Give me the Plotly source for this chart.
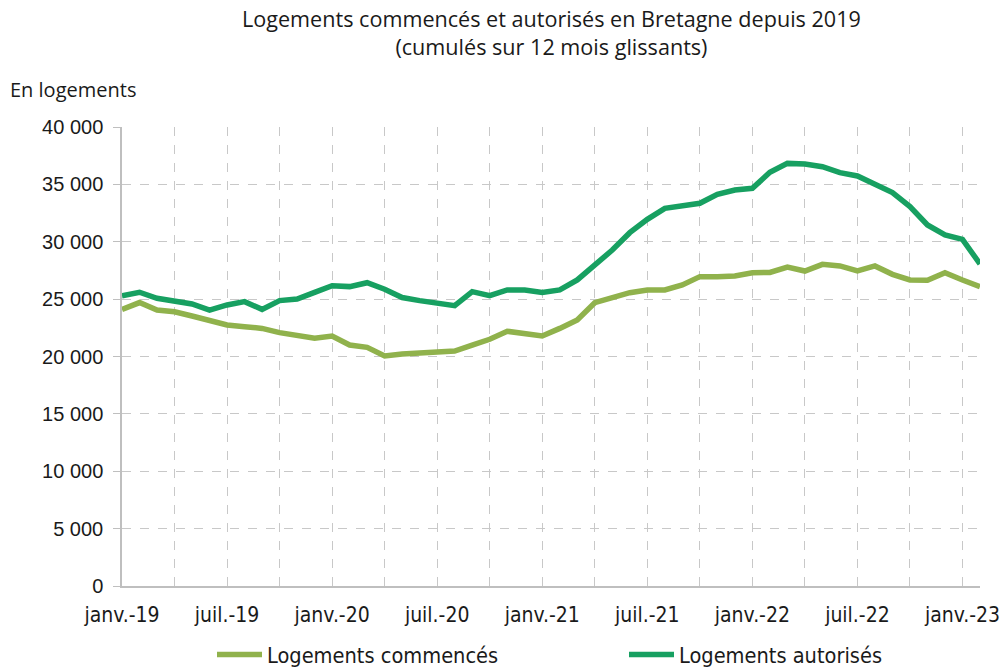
import plotly.graph_objects as go

mois = ["janv.", "févr.", "mars", "avr.", "mai", "juin",
        "juil.", "août", "sept.", "oct.", "nov.", "déc."]
annees = ["19", "20", "21", "22", "23"]
months = [f"{m}-{a}" for a in annees for m in mois][:50]

commences = [24100, 24700, 24050, 23900, 23530, 23090, 22750, 22600, 22450, 22080,
             21790, 21600, 21790, 21000, 20800, 20040, 20220, 20280, 20330, 20480,
             21000, 21500, 22200, 22020, 21790, 22450, 23180, 24690, 25130, 25560,
             25800, 25800, 26230, 26960, 26960, 27020, 27300, 27330, 27800, 27450,
             28030, 27890, 27450, 27890, 27160, 26670, 26640, 27300, 26670, 26090]

autorises = [25300, 25600, 25070, 24780, 24580, 24050, 24490, 24780, 24110, 24870,
             25010, 25590, 26170, 26090, 26430, 25860, 25140, 24870, 24630, 24430,
             25650, 25300, 25800, 25800, 25590, 25800, 26670, 27970, 29280, 30790,
             31950, 32910, 33150, 33350, 34130, 34510, 34660, 36050, 36830, 36780,
             36540, 36020, 35730, 34950, 34280, 33060, 31460, 30590, 30210, 28060]

tick_months = months[::3]
tick_text = [m if i % 2 == 0 else "" for i, m in enumerate(tick_months)]

y_ticks = [0, 5000, 10000, 15000, 20000, 25000, 30000, 35000, 40000]

narrow = "Liberation Sans Narrow, DejaVu Sans Condensed, Arial Narrow, sans-serif"

fig = go.Figure()
fig.add_trace(go.Scatter(x=months, y=commences, mode="lines", name="Logements commencés",
                         line=dict(color="#90b24c", width=5.5)))
fig.add_trace(go.Scatter(x=months, y=autorises, mode="lines", name="Logements autorisés",
                         line=dict(color="#17a061", width=5.5)))

PW, PH = 858, 459

fig.update_layout(
    width=1001, height=672,
    margin=dict(l=122, r=21, t=127, b=86, autoexpand=False),
    paper_bgcolor="white", plot_bgcolor="white",
    separators=", ",
    showlegend=True,
    legend=dict(orientation="h", x=(212 - 122) / PW, xanchor="left",
                y=-(634 - 586) / PH, yanchor="top",
                itemwidth=45, entrywidth=352,
                font=dict(family=narrow, size=21.6, color="#1a1a1a"),
                bgcolor="rgba(0,0,0,0)"),
    xaxis=dict(type="category", categoryorder="array", categoryarray=months,
               range=[0, len(months) - 1],
               tickmode="array", tickvals=tick_months, ticktext=tick_text,
               showgrid=True, gridcolor="#c8c8c8", griddash="dash", gridwidth=1,
               showline=True, linecolor="#bfbfbf", linewidth=1.5,
               ticks="", ticklabelstandoff=9,
               tickfont=dict(family=narrow, size=21, color="#1a1a1a"),
               zeroline=False),
    yaxis=dict(range=[0, 40000], tickmode="array", tickvals=y_ticks, tickformat=",d",
               showgrid=True, gridcolor="#c8c8c8", griddash="dash", gridwidth=1,
               showline=True, linecolor="#bfbfbf", linewidth=1.5,
               ticks="outside", ticklen=7, tickcolor="#bfbfbf", ticklabelstandoff=6,
               tickfont=dict(family="Liberation Sans, Arial, sans-serif", size=20, color="#1a1a1a"),
               zeroline=False),
)

fig.add_annotation(text="Logements commencés et autorisés en Bretagne depuis 2019<br>(cumulés sur 12 mois glissants)",
                   xref="paper", yref="paper", x=0.5, xanchor="center",
                   y=(586 - 33) / PH, yanchor="middle", showarrow=False, align="center",
                   font=dict(family="Open Sans, sans-serif", size=21.6, color="#1a1a1a"))

fig.add_annotation(text="En logements", xref="paper", yref="paper",
                   x=-(122 - 8) / PW, xanchor="left", y=(586 - 90) / PH, yanchor="middle",
                   showarrow=False,
                   font=dict(family="Open Sans, sans-serif", size=20, color="#1a1a1a"))

fig.write_html("out.html")
